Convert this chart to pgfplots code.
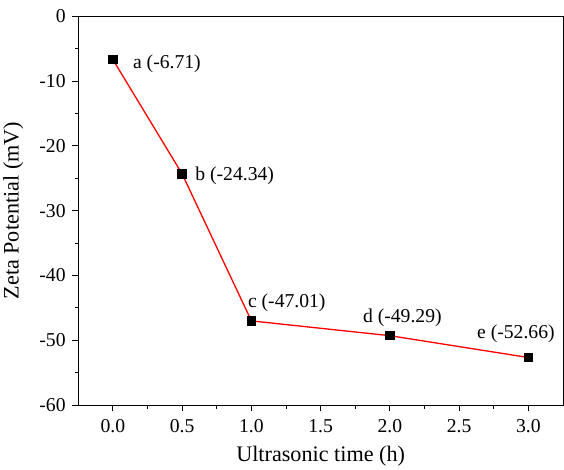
\documentclass[border=0pt]{standalone}
\usepackage{pgfplots}
\pgfplotsset{compat=1.18}
\usepackage{fontspec}
\setmainfont{Liberation Serif}

\begin{document}
\begin{tikzpicture}
\begin{axis}[
    scale only axis,
    width=481pt,
    height=386pt,
    xmin=-0.25, xmax=3.25,
    ymin=-60, ymax=0,
    xtick={0,0.5,...,3},
    ytick={-60,-50,...,0},
    minor x tick num=1,
    minor y tick num=1,
    tick align=outside,
    tick pos=left,
    major tick length=6pt,
    minor tick length=3.5pt,
    every tick/.style={black, line width=0.8pt},
    axis line style={line width=0.9pt},
    /pgf/number format/assume math mode=true,
    ticklabel style={font=\fontsize{19.5}{22}\selectfont},
    xticklabel style={yshift=-5pt, /pgf/number format/.cd, fixed, fixed zerofill, precision=1},
    yticklabel style={xshift=-3pt},
    label style={font=\fontsize{22}{25}\selectfont},
    xlabel={Ultrasonic time (h)},
    ylabel={Zeta Potential (mV)},
    xlabel style={yshift=-6pt},
    ylabel style={yshift=9pt},
]
\addplot[red, line width=1.3pt, mark=square*, mark size=4pt,
    mark options={black, fill=black}] coordinates {
    (0,-6.71) (0.5,-24.34) (1,-47.01) (2,-49.29) (3,-52.66)};
\begin{scope}[every node/.style={font=\fontsize{19.5}{22}\selectfont}]
\node[anchor=west] at (axis cs:0.12,-7.3) {a (-6.71)};
\node[anchor=west] at (axis cs:0.57,-24.6) {b (-24.34)};
\node[anchor=south west] at (axis cs:0.95,-46.2) {c (-47.01)};
\node[anchor=south] at (axis cs:2.09,-48.4) {d (-49.29)};
\node[anchor=south] at (axis cs:2.91,-50.9) {e (-52.66)};
\end{scope}
\end{axis}
\path ([yshift=16pt]current axis.north east) ++(1pt,0);
\end{tikzpicture}
\end{document}
